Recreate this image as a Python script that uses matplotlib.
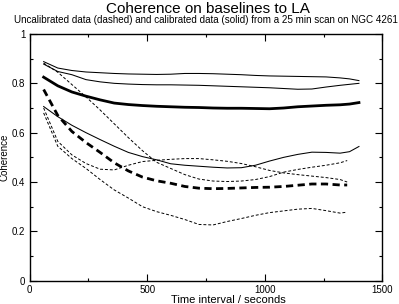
import matplotlib
matplotlib.use("Agg")
from matplotlib import pyplot as plt
from matplotlib.ticker import MultipleLocator

plt.rcParams['font.family'] = ['Liberation Sans', 'DejaVu Sans']

# time axis (seconds)
t_cal = [60, 120, 180, 240, 300, 360, 420, 480, 540, 600, 660, 720, 780,
         840, 900, 960, 1020, 1080, 1140, 1200, 1260, 1320, 1360, 1400]
t_uncal = [60, 120, 180, 240, 300, 360, 420, 480, 540, 600, 660, 720, 780,
           840, 900, 960, 1020, 1080, 1140, 1200, 1260, 1320, 1350]

# calibrated baselines (solid)
cal_a = [0.888, 0.862, 0.852, 0.846, 0.843, 0.840, 0.838, 0.837, 0.836, 0.837,
         0.840, 0.840, 0.839, 0.837, 0.835, 0.832, 0.830, 0.829, 0.828, 0.827,
         0.826, 0.822, 0.818, 0.811]
cal_b = [0.878, 0.848, 0.835, 0.815, 0.806, 0.800, 0.797, 0.795, 0.794, 0.794,
         0.793, 0.792, 0.790, 0.788, 0.786, 0.784, 0.782, 0.779, 0.776, 0.777,
         0.785, 0.792, 0.796, 0.800]
cal_c = [0.706, 0.665, 0.630, 0.600, 0.572, 0.545, 0.520, 0.503, 0.490, 0.474,
         0.468, 0.464, 0.460, 0.457, 0.458, 0.468, 0.485, 0.500, 0.512, 0.521,
         0.520, 0.517, 0.523, 0.544]
cal_mean = [0.825, 0.790, 0.765, 0.748, 0.733, 0.720, 0.714, 0.710, 0.707, 0.705,
            0.703, 0.702, 0.700, 0.699, 0.699, 0.698, 0.697, 0.700, 0.705, 0.708,
            0.711, 0.713, 0.716, 0.722]

# uncalibrated baselines (dashed)
unc_a = [0.882, 0.845, 0.795, 0.745, 0.692, 0.636, 0.580, 0.527, 0.480, 0.455,
         0.430, 0.412, 0.404, 0.402, 0.404, 0.410, 0.422, 0.440, 0.451, 0.460,
         0.468, 0.478, 0.487]
unc_b = [0.700, 0.565, 0.510, 0.475, 0.452, 0.449, 0.468, 0.483, 0.488, 0.492,
         0.495, 0.495, 0.490, 0.484, 0.475, 0.462, 0.447, 0.437, 0.430, 0.424,
         0.418, 0.410, 0.400]
unc_c = [0.680, 0.545, 0.495, 0.455, 0.410, 0.368, 0.335, 0.300, 0.280, 0.265,
         0.248, 0.228, 0.226, 0.240, 0.252, 0.265, 0.276, 0.283, 0.290, 0.293,
         0.284, 0.274, 0.278]
unc_mean = [0.775, 0.670, 0.605, 0.560, 0.520, 0.478, 0.445, 0.420, 0.405, 0.395,
            0.382, 0.375, 0.373, 0.374, 0.376, 0.378, 0.379, 0.382, 0.387, 0.392,
            0.392, 0.388, 0.388]

fig = plt.figure(figsize=(3.99, 3.04), dpi=100)
ax = fig.add_axes([0.074, 0.0766, 0.8846, 0.8116])

thin_dash = (0, (3.0, 2.0))
for y in (cal_a, cal_b, cal_c):
    ax.plot(t_cal, y, color='black', lw=0.75)
ax.plot(t_cal, cal_mean, color='black', lw=2.0)
for y in (unc_a, unc_b, unc_c):
    ax.plot(t_uncal, y, color='black', lw=0.7, linestyle=thin_dash)
ax.plot(t_uncal, unc_mean, color='black', lw=2.0, linestyle=(0, (2.6, 1.6)))

ax.set_xlim(0, 1500)
ax.set_ylim(0, 1)
ax.xaxis.set_major_locator(MultipleLocator(500))
ax.xaxis.set_minor_locator(MultipleLocator(250))
ax.yaxis.set_minor_locator(MultipleLocator(0.1))
ax.set_yticks([0, 0.2, 0.4, 0.6, 0.8, 1.0])
ax.set_yticklabels(['0', '0.2', '0.4', '0.6', '0.8', '1'])
ax.tick_params(which='both', direction='in', top=True, right=True,
               labelsize=7, width=0.8, pad=3)
ax.tick_params(which='major', length=5)
ax.tick_params(which='minor', length=2.5)
for s in ax.spines.values():
    s.set_linewidth(1.0)

ax.set_xlabel('Time interval / seconds', fontsize=8, labelpad=0)
ax.xaxis.set_label_coords(0.562, -0.057)
ax.set_ylabel('Coherence', fontsize=7, labelpad=2)

fig.text(0.52, 0.972, 'Coherence on baselines to LA', ha='center', va='center',
         fontsize=11)
fig.text(0.516, 0.935, 'Uncalibrated data (dashed) and calibrated data (solid) '
         'from a 25 min scan on NGC 4261', ha='center', va='center', fontsize=7.15)

fig.savefig('out.png', dpi=100)
